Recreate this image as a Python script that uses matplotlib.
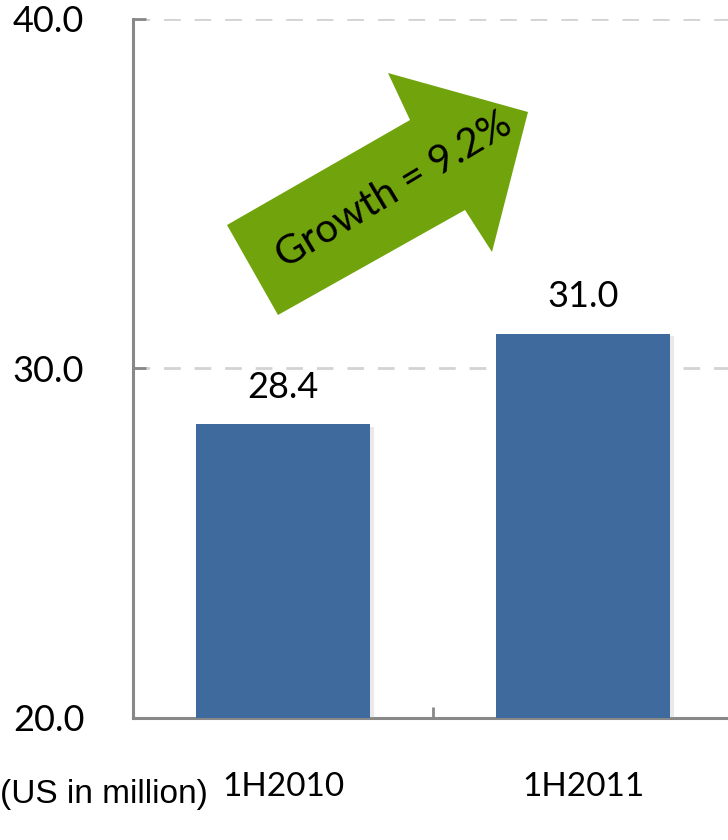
import numpy as np
import matplotlib.pyplot as plt
from matplotlib.patches import Polygon
import matplotlib.patheffects as pe

plt.rcParams['font.family'] = ['Lato', 'DejaVu Sans']

periods = ["1H2010", "1H2011"]
revenue = [28.4, 31.0]
growth_label = "Growth = 9.2%"
unit_label = "(US in million)"
yticks = [20.0, 30.0, 40.0]

W, H = 728, 840
fig = plt.figure(figsize=(W / 100, H / 100), dpi=100)
ax = fig.add_axes([133 / W, (H - 718) / H, 600 / W, 699 / H])

x = np.arange(len(periods)) + 0.5
bars = ax.bar(x, revenue, width=0.58, color="#3F6A9E", zorder=3)
for b in bars:
    b.set_path_effects([pe.SimplePatchShadow(offset=(3, -2), shadow_rgbFace="#AAAAAA", alpha=0.25),
                        pe.Normal()])

for xi, v in zip(x, revenue):
    ax.annotate(f"{v:.1f}", (xi, v), xytext=(0, 15), textcoords="offset points",
                ha="center", va="bottom", fontsize=26, color="black")

ax.set_ylim(20, 40)
ax.set_xlim(0, 2)
ax.set_yticks(yticks)
ax.set_yticklabels([f"{t:.1f}" for t in yticks], fontsize=26)
ax.tick_params(axis="y", direction="in", length=9, width=2, color="#888888", pad=35)

ax.set_xticks([0, 1, 2])
ax.set_xticklabels([])
ax.set_xticks(x, minor=True)
ax.set_xticklabels(periods, minor=True, fontsize=24)
ax.tick_params(axis="x", which="major", direction="in", length=8, width=2, color="#888888")
ax.tick_params(axis="x", which="minor", length=0, pad=39)

ax.grid(axis="y", color="#D3D3D3", linestyle=(0, (6, 5)), linewidth=2, zorder=0)
for s in ["top", "right"]:
    ax.spines[s].set_visible(False)
for s in ["left", "bottom"]:
    ax.spines[s].set_color("#888888")
    ax.spines[s].set_linewidth(2.2)

# growth arrow (pixel positions converted to data units)
def px(p):
    return ((p[0] - 133) / 300, 20 + (718 - p[1]) / 699 * 20)

arrow_px = [(227, 225), (278, 315), (465, 210), (492, 252), (528, 112), (388, 73), (410, 120)]
ax.add_patch(Polygon([px(p) for p in arrow_px], closed=True, facecolor="#71A40C",
                     edgecolor="none", zorder=4, clip_on=False))
tx, ty = px((394, 190))
ax.text(tx, ty, growth_label, rotation=31, rotation_mode="anchor", ha="center", va="center",
        fontsize=29, color="black", zorder=5)

fig.text(0.0, 1 - 794 / H, unit_label, ha="left", va="center", fontsize=24,
         family="Liberation Sans")

fig.savefig("out.png", dpi=100)
